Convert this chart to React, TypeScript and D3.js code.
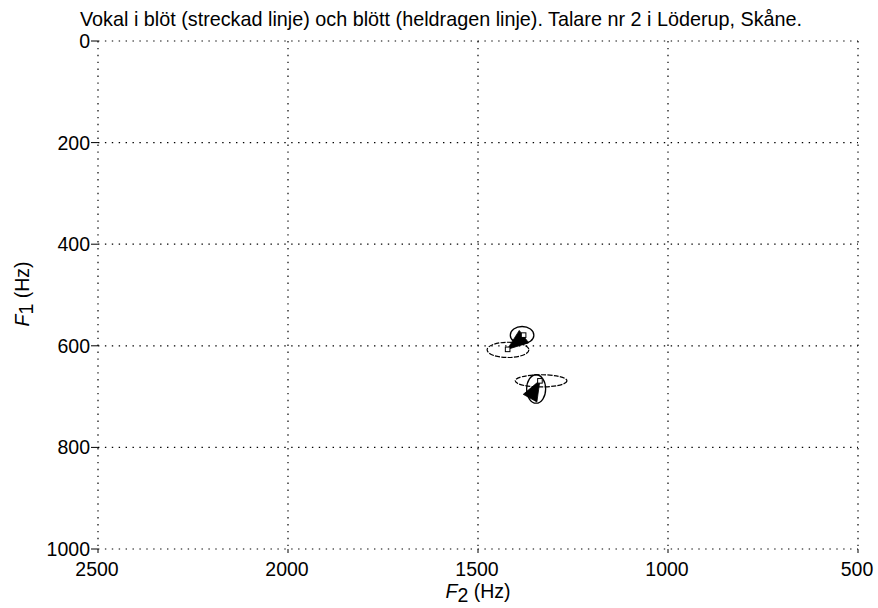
import React from "react";
import * as d3 from "d3";

// Ticks
const xTicks = [2500, 2000, 1500, 1000, 500];
const yTicks = [0, 200, 400, 600, 800, 1000];

// Dashed ellipses (blöt): centre and half-axes in Hz
const blotF2 = [1421, 1334];
const blotF1 = [608, 669];
const blotF2r = [55, 68];
const blotF1r = [15, 12];

// Solid ellipses (blött)
const blottF2 = [1384, 1347];
const blottF1 = [579, 685];
const blottF2r = [31, 25];
const blottF1r = [17, 28];

// Wedges (apex -> base)
const wedgeStartF2 = [1423, 1337];
const wedgeStartF1 = [607, 668];
const wedgeEndF2 = [1379, 1363];
const wedgeEndF1 = [582, 703];

// Square markers
const squareF2 = [1422, 1380, 1337];
const squareF1 = [607, 579, 669];

const W = 878;
const H = 608;
const FONT = "'Liberation Sans', Arial, sans-serif";

export default function App() {
  const x = d3.scaleLinear().domain([2500, 500]).range([98, 858]);
  const y = d3.scaleLinear().domain([0, 1000]).range([41, 549]);
  const [x0, x1] = x.range();
  const [y0, y1] = y.range();
  const dots = "1.4,5.5";
  const wedgeHalf = 7.8;

  return (
    <svg
      width={W}
      height={H}
      style={{ position: "absolute", left: 0, top: 0, background: "#fff" }}
      fontFamily={FONT}
    >
      {/* grid */}
      {xTicks.map((t) => (
        <line key={"gx" + t} x1={x(t)} x2={x(t)} y1={y0} y2={y1} stroke="#000" strokeWidth={1.2} strokeDasharray={dots} />
      ))}
      {yTicks.map((t) => (
        <line key={"gy" + t} x1={x0} x2={x1} y1={y(t)} y2={y(t)} stroke="#000" strokeWidth={1.2} strokeDasharray={dots} />
      ))}
      {/* ticks */}
      {yTicks.map((t) => (
        <g key={"ty" + t}>
          <line x1={x0 - 7} x2={x0} y1={y(t)} y2={y(t)} stroke="#000" strokeWidth={1} />
          <text x={x0 - 8} y={y(t) + 7} textAnchor="end" fontSize={19.5} fill="#000">
            {t}
          </text>
        </g>
      ))}
      {xTicks.map((t) => (
        <g key={"tx" + t}>
          <line x1={x(t)} x2={x(t)} y1={y1} y2={y1 + 4} stroke="#000" strokeWidth={1} />
          <text x={x(t) - 1} y={576} textAnchor="middle" fontSize={19.5} fill="#000">
            {t}
          </text>
        </g>
      ))}

      {/* dashed ellipses */}
      {blotF2.map((f2, i) => (
        <ellipse
          key={"de" + i}
          cx={x(f2)}
          cy={y(blotF1[i])}
          rx={Math.abs(x(f2 + blotF2r[i]) - x(f2))}
          ry={Math.abs(y(blotF1[i] + blotF1r[i]) - y(blotF1[i]))}
          fill="none"
          stroke="#000"
          strokeWidth={1.2}
          strokeDasharray="5,1.3"
        />
      ))}
      {/* solid ellipses */}
      {blottF2.map((f2, i) => (
        <ellipse
          key={"se" + i}
          cx={x(f2)}
          cy={y(blottF1[i])}
          rx={Math.abs(x(f2 + blottF2r[i]) - x(f2))}
          ry={Math.abs(y(blottF1[i] + blottF1r[i]) - y(blottF1[i]))}
          fill="none"
          stroke="#000"
          strokeWidth={1.3}
        />
      ))}
      {/* wedges */}
      {wedgeStartF2.map((f2, i) => {
        const ax = x(f2);
        const ay = y(wedgeStartF1[i]);
        const bx = x(wedgeEndF2[i]);
        const by = y(wedgeEndF1[i]);
        const dx = bx - ax;
        const dy = by - ay;
        const len = Math.hypot(dx, dy);
        const px = (-dy / len) * wedgeHalf;
        const py = (dx / len) * wedgeHalf;
        const pts: [number, number][] = [
          [ax, ay],
          [bx + px, by + py],
          [bx - px, by - py],
        ];
        return <path key={"w" + i} d={(d3.line()(pts) as string) + "Z"} fill="#000" stroke="#000" strokeWidth={0.8} />;
      })}
      {/* squares */}
      {squareF2.map((f2, i) => (
        <rect
          key={"sq" + i}
          x={x(f2) - 2.3}
          y={y(squareF1[i]) - 2.3}
          width={4.6}
          height={4.6}
          fill="#fff"
          stroke="#000"
          strokeWidth={1}
        />
      ))}

      {/* title */}
      <text x={80} y={26} fontSize={19.8} fill="#000">
        Vokal i blöt (streckad linje) och blött (heldragen linje). Talare nr 2 i Löderup, Skåne.
      </text>
      {/* x label */}
      <text x={478} y={598} textAnchor="middle" fontSize={19.5} fill="#000">
        <tspan fontStyle="italic">F</tspan>
        <tspan dy={4}>2</tspan>
        <tspan dy={-4}> (Hz)</tspan>
      </text>
      {/* y label */}
      <text transform="translate(29,294) rotate(-90)" textAnchor="middle" fontSize={19.5} fill="#000">
        <tspan fontStyle="italic">F</tspan>
        <tspan dy={4}>1</tspan>
        <tspan dy={-4}> (Hz)</tspan>
      </text>
    </svg>
  );
}
